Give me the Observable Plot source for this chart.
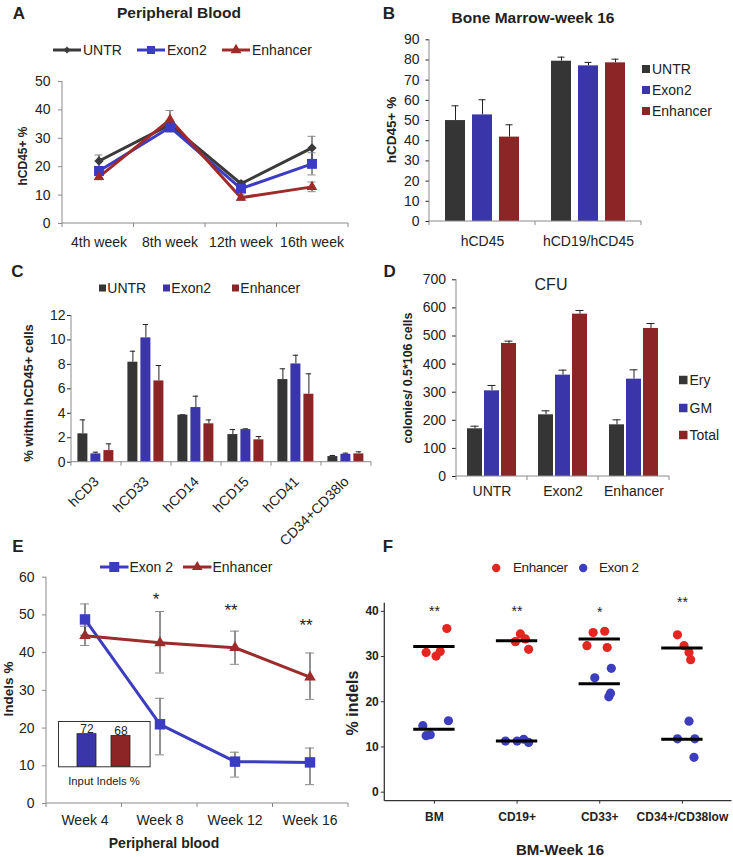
<!DOCTYPE html>
<html>
<head>
<meta charset="utf-8">
<script src="https://cdn.jsdelivr.net/npm/d3@7"></script>
<script src="https://cdn.jsdelivr.net/npm/@observablehq/plot@0.6"></script>
<style>
  html, body { margin: 0; padding: 0; background: #fff; }
  #root { position: relative; width: 733px; height: 857px; overflow: hidden; background: #fff; }
</style>
</head>
<body>
<div id="root"></div>
<script>
// ---------------- DATA ----------------
const series = ["UNTR", "Exon2", "Enhancer"];

// A: Peripheral Blood (hCD45+ %)
const aWeeks = ["4th week", "8th week", "12th week", "16th week"];
const aUNTR = [22.0, 34.8, 14.0, 26.6];
const aUNTRErr = [2.1, 1.5, 1.0, 4.1];
const aExon2 = [18.5, 33.9, 12.3, 21.0];
const aExon2Err = [1.5, 1.7, 1.2, 3.9];
const aEnh = [16.4, 36.6, 9.1, 12.9];
const aEnhErr = [1.0, 3.2, 1.0, 1.7];

// B: Bone Marrow-week 16
const bGroups = ["hCD45", "hCD19/hCD45"];
const bUNTR = [50.0, 79.4], bUNTRErr = [7.3, 2.0];
const bExon2 = [52.8, 77.1], bExon2Err = [7.5, 1.7];
const bEnh = [41.8, 78.6], bEnhErr = [6.1, 1.8];

// C: % within hCD45+ cells
const cCats = ["hCD3", "hCD33", "hCD14", "hCD15", "hCD41", "CD34+CD38lo"];
const cUNTR = [2.32, 8.18, 3.85, 2.26, 6.76, 0.46];
const cUNTRErr = [1.14, 0.90, 0.03, 0.41, 0.88, 0.09];
const cExon2 = [0.68, 10.17, 4.47, 2.67, 8.04, 0.65];
const cExon2Err = [0.14, 1.09, 0.93, 0.06, 0.71, 0.09];
const cEnh = [0.95, 6.65, 3.14, 1.83, 5.56, 0.68];
const cEnhErr = [0.55, 1.26, 0.32, 0.27, 1.67, 0.17];

// D: CFU
const dGroups = ["UNTR", "Exon2", "Enhancer"];
const dTypes = ["Ery", "GM", "Total"];
const dEry = [169.7, 219.5, 183.9], dEryErr = [9.3, 14.2, 17.8];
const dGM = [304.9, 360.7, 346.4], dGMErr = [19.1, 17.8, 33.2];
const dTotal = [473.4, 577.8, 526.8], dTotalErr = [8.3, 13.0, 17.7];

// E: Indels % in peripheral blood
const eWeeks = ["Week 4", "Week 8", "Week 12", "Week 16"];
const eSeries = ["Exon 2", "Enhancer"];
const eExon2 = [48.8, 21.0, 11.1, 10.9];
const eExon2Lo = [44.6, 12.9, 7.0, 5.0];
const eExon2Hi = [52.9, 27.9, 13.6, 14.7];
const eEnh = [44.5, 42.6, 41.3, 33.5];
const eEnhLo = [41.9, 34.6, 36.9, 27.6];
const eEnhHi = [47.0, 50.9, 45.7, 39.9];
const eStars = ["", "*", "**", "**"];
const eStarY = [null, 54.2, 51.2, 47.3];
const insetLabels = ["Exon 2", "Enhancer"];
const insetValues = [72, 68];

// F: BM-Week 16, % indels
const fCats = ["BM", "CD19+", "CD33+", "CD34+/CD38low"];
const fGroups = ["Enhancer", "Exon 2"];
const fEnh = [[30.9, 30.1, 31.1, 36.2], [33.3, 35.0, 33.9, 31.6], [32.4, 35.3, 35.6, 32.0], [34.8, 32.4, 30.9, 29.3]];
const fEnhJitter = [[-0.10, 0.02, 0.07, 0.15], [-0.02, 0.04, 0.10, 0.14], [-0.155, -0.08, 0.06, 0.09], [-0.06, 0.02, 0.08, 0.10]];
const fExon2 = [[14.7, 12.5, 12.7, 15.8], [11.3, 11.3, 11.7, 11.0], [25.3, 27.4, 21.9, 21.1], [15.7, 11.8, 11.8, 7.7]];
const fExon2Jitter = [[-0.14, -0.10, -0.05, 0.17], [-0.14, 0.0, 0.08, 0.14], [-0.06, 0.14, 0.13, 0.11], [0.08, -0.06, 0.15, 0.14]];
const fEnhMean = [32.2, 33.5, 33.9, 31.9];
const fExon2Mean = [13.9, 11.3, 24.0, 11.7];
const fStars = ["**", "**", "*", "**"];
const fStarY = [40.0, 40.0, 39.7, 41.9];

// ---------------- STYLE ----------------
const FONT = '"Liberation Sans", Arial, Helvetica, sans-serif';
const barColors = ["#353535", "#3a35a8", "#8c2525"];
const aLineColors = ["#3a3a3a", "#3b3bc6", "#a02a2a"];
const eLineColors = ["#3c3cc2", "#9c2b2b"];
const fColors = ["#e3261f", "#3d3dbf"];
const AXIS = "#8a8a8a";
const baseStyle = {fontFamily: FONT, fontSize: "14px", color: "#222", background: "transparent", overflow: "visible"};

const root = document.getElementById("root");

function label(text, cx, cy, {size = 14, weight = "normal", rotate = 0, family = FONT, color = "#222"} = {}) {
  const d = document.createElement("div");
  d.textContent = text;
  Object.assign(d.style, {
    position: "absolute", left: cx + "px", top: cy + "px",
    transform: `translate(-50%,-50%) rotate(${rotate}deg)`,
    whiteSpace: "nowrap", fontSize: size + "px", fontWeight: weight,
    fontFamily: family, color, lineHeight: "1"
  });
  root.appendChild(d);
}

function legendItem({kind, x, cy, color, symbol, area, text, w = 28, size = 14, family = FONT, box = 8, gap = 2, r = 4, sw = 3, spacing = 0}) {
  const wrap = document.createElement("div");
  Object.assign(wrap.style, {
    position: "absolute", left: x + "px", top: (cy - 10) + "px", height: "20px",
    display: "flex", alignItems: "center", whiteSpace: "nowrap",
    fontFamily: family, fontSize: size + "px", color: "#222", lineHeight: "20px",
    letterSpacing: spacing + "px"
  });
  const swW = kind === "line" ? w : kind === "box" ? box : 2 * r;
  const svg = d3.create("svg").attr("width", swW).attr("height", 20).style("overflow", "visible").style("display", "block");
  if (kind === "line") {
    svg.append("line").attr("x1", 0).attr("x2", w).attr("y1", 10).attr("y2", 10).attr("stroke", color).attr("stroke-width", sw);
    if (symbol) svg.append("path").attr("d", d3.symbol(symbol, area)()).attr("transform", `translate(${w / 2},10)`).attr("fill", color);
  } else if (kind === "box") {
    svg.append("rect").attr("x", 0).attr("y", 10 - box / 2).attr("width", box).attr("height", box).attr("fill", color);
  } else {
    svg.append("circle").attr("cx", r).attr("cy", 10).attr("r", r).attr("fill", color);
  }
  wrap.append(svg.node());
  const t = document.createElement("span");
  t.textContent = text;
  t.style.marginLeft = gap + "px";
  wrap.append(t);
  root.append(wrap);
}

// axis lines (baseline, left line, boundary ticks) as a render-function mark
function axisFrame({n = 1, tick = 4, color = AXIS, width = 1, yLine = true} = {}) {
  let calls = 0;
  return (index, scales, values, dims) => {
    const first = calls++ === 0;
    const {width: W, height: H, marginLeft: ml, marginRight: mr, marginTop: mt, marginBottom: mb} = dims;
    const x0 = ml, x1 = W - mr, yb = H - mb;
    const g = d3.create("svg:g").attr("stroke", color).attr("stroke-width", width).attr("fill", "none");
    g.append("line").attr("x1", x0).attr("x2", x1).attr("y1", yb).attr("y2", yb);
    if (yLine && first) g.append("line").attr("x1", x0).attr("x2", x0).attr("y1", mt).attr("y2", yb);
    if (tick > 0) {
      for (let i = (first ? 0 : 1); i <= n; i++) {
        const x = x0 + (x1 - x0) * i / n;
        g.append("line").attr("x1", x).attr("x2", x).attr("y1", yb).attr("y2", yb + tick);
      }
    }
    return g.node();
  };
}

function mount(svg, left, top, tickColor) {
  if (tickColor) svg.querySelectorAll('g[aria-label$="tick"]').forEach(g => g.setAttribute("stroke", tickColor));
  Object.assign(svg.style, {position: "absolute", left: left + "px", top: top + "px"});
  root.append(svg);
  return svg;
}

// ---------------- PANEL A ----------------
const aVals = [aUNTR, aExon2, aEnh], aErrs = [aUNTRErr, aExon2Err, aEnhErr];
const aRows = [];
series.forEach((s, si) => aWeeks.forEach((w, wi) => aRows.push({series: s, week: w, v: aVals[si][wi], e: aErrs[si][wi]})));
const aSymbols = ["diamond2", "square", "triangle"];
const aR = [4.2, 5.6, 3.9];

mount(Plot.plot({
  width: 366, height: 190, marginLeft: 62, marginRight: 18, marginTop: 11, marginBottom: 37,
  style: baseStyle,
  x: {type: "band", domain: aWeeks, padding: 0, tickSize: 0, tickPadding: 14, label: null},
  y: {domain: [0, 50], ticks: [0, 10, 20, 30, 40, 50], tickSize: 4, tickPadding: 8, label: null},
  color: {domain: series, range: aLineColors},
  marks: [
    axisFrame({n: aWeeks.length}),
    Plot.ruleX(aRows, {x: "week", y1: d => d.v - d.e, y2: d => d.v + d.e, stroke: "#222"}),
    Plot.tickY(aRows, {x: "week", y: d => d.v + d.e, insetLeft: 31.5, insetRight: 31.5, stroke: "#222"}),
    Plot.tickY(aRows, {x: "week", y: d => d.v - d.e, insetLeft: 31.5, insetRight: 31.5, stroke: "#222"}),
    Plot.line(aRows, {x: "week", y: "v", z: "series", stroke: "series", strokeWidth: 3}),
    ...series.map((s, si) => Plot.dot(aRows.filter(d => d.series === s), {x: "week", y: "v", fill: "series", symbol: aSymbols[si], r: aR[si]}))
  ]
}), 0, 70, AXIS);

label("A", 19, 12.5, {size: 17, weight: "bold"});
label("Peripheral Blood", 179, 12.5, {size: 15.5, weight: "bold"});
label("hCD45+ %", 23, 156, {size: 12, weight: "bold", rotate: -90});
[53, 137, 222].forEach((x, i) => legendItem({kind: "line", x, cy: 50, color: aLineColors[i], symbol: [d3.symbolDiamond2, d3.symbolSquare, d3.symbolTriangle][i], area: [32, 64, 52][i], text: series[i], w: 28}));

// ---------------- PANEL B ----------------
const bVals = [bUNTR, bExon2, bEnh], bErrs = [bUNTRErr, bExon2Err, bEnhErr];
const bRows = [];
bGroups.forEach((g, gi) => series.forEach((s, si) => bRows.push({group: g, series: s, v: bVals[si][gi], e: bErrs[si][gi]})));

mount(Plot.plot({
  width: 367, height: 225, marginLeft: 63, marginRight: 92, marginTop: 9.3, marginBottom: 34,
  style: baseStyle,
  fx: {domain: bGroups, padding: 0, axis: "bottom", tickSize: 0, tickPadding: 15, label: null},
  x: {domain: series, paddingInner: 0.255, paddingOuter: 0.573, axis: null},
  y: {domain: [0, 90], ticks: d3.range(0, 91, 10), tickSize: 3.5, tickPadding: 6.5, label: null},
  color: {domain: series, range: barColors},
  marks: [
    Plot.ruleX(bRows, {fx: "group", x: "series", y1: "v", y2: d => d.v + d.e, stroke: "#222"}),
    Plot.tickY(bRows, {fx: "group", x: "series", y: d => d.v + d.e, insetLeft: 6.5, insetRight: 6.5, stroke: "#222"}),
    Plot.barY(bRows, {fx: "group", x: "series", y: "v", fill: "series"}),
    axisFrame({n: 1})
  ]
}), 366, 30, AXIS);

label("B", 389, 12.5, {size: 17, weight: "bold"});
label("Bone Marrow-week 16", 533, 17.5, {size: 15.5, weight: "bold"});
label("hCD45+ %", 392, 130, {size: 13.5, weight: "bold", rotate: -90});
series.forEach((s, i) => legendItem({kind: "box", x: 642, cy: 69 + 21 * i, color: barColors[i], text: s, box: 8, gap: 2}));

// ---------------- PANEL C ----------------
const cVals = [cUNTR, cExon2, cEnh], cErrs = [cUNTRErr, cExon2Err, cEnhErr];
const cRows = [];
cCats.forEach((c, ci) => series.forEach((s, si) => cRows.push({cat: c, series: s, v: cVals[si][ci], e: cErrs[si][ci]})));

mount(Plot.plot({
  width: 380, height: 250, marginLeft: 69.6, marginRight: 7.7, marginTop: 15, marginBottom: 88.3,
  style: baseStyle,
  fx: {domain: cCats, padding: 0, axis: "bottom", tickRotate: -45, tickSize: 0, tickPadding: 17, label: null},
  x: {domain: series, paddingInner: 0.2, paddingOuter: 0.5, axis: null},
  y: {domain: [0, 12], ticks: [0, 2, 4, 6, 8, 10, 12], tickSize: 4, tickPadding: 2, label: null},
  color: {domain: series, range: barColors},
  marks: [
    Plot.ruleX(cRows, {fx: "cat", x: "series", y1: "v", y2: d => d.v + d.e, stroke: "#222"}),
    Plot.tickY(cRows, {fx: "cat", x: "series", y: d => d.v + d.e, insetLeft: 2.3, insetRight: 2.3, stroke: "#222"}),
    Plot.barY(cRows, {fx: "cat", x: "series", y: "v", fill: "series"}),
    axisFrame({n: 1})
  ]
}), 0, 300, AXIS);

label("C", 17.5, 271, {size: 17, weight: "bold"});
label("% within hCD45+ cells", 28, 393, {size: 13, weight: "bold", rotate: -90});
[99, 163, 232].forEach((x, i) => legendItem({kind: "box", x, cy: 288, color: barColors[i], text: series[i], box: 7, gap: 1.3}));

// ---------------- PANEL D ----------------
const dVals = [dEry, dGM, dTotal], dErrs = [dEryErr, dGMErr, dTotalErr];
const dRows = [];
dGroups.forEach((g, gi) => dTypes.forEach((t, ti) => dRows.push({group: g, type: t, v: dVals[ti][gi], e: dErrs[ti][gi]})));

mount(Plot.plot({
  width: 367, height: 240, marginLeft: 89, marginRight: 63, marginTop: 9.3, marginBottom: 34,
  style: baseStyle,
  fx: {domain: dGroups, padding: 0, axis: "bottom", tickSize: 0, tickPadding: 10, label: null},
  x: {domain: dTypes, paddingInner: 0.14, paddingOuter: 0.62, axis: null},
  y: {domain: [0, 700], ticks: d3.range(0, 701, 100), tickSize: 4, tickPadding: 6.5, label: null},
  color: {domain: dTypes, range: barColors},
  marks: [
    Plot.ruleX(dRows, {fx: "group", x: "type", y1: "v", y2: d => d.v + d.e, stroke: "#222"}),
    Plot.tickY(dRows, {fx: "group", x: "type", y: d => d.v + d.e, insetLeft: 3.5, insetRight: 3.5, stroke: "#222"}),
    Plot.barY(dRows, {fx: "group", x: "type", y: "v", fill: "type"}),
    axisFrame({n: 1})
  ]
}), 366, 270, AXIS);

label("D", 389.7, 271, {size: 17, weight: "bold"});
label("CFU", 551, 285, {size: 16});
label("colonies/ 0.5*106  cells", 407.7, 377.5, {size: 12.4, weight: "bold", rotate: -90});
dTypes.forEach((t, i) => legendItem({kind: "box", x: 679, cy: 380 + 27.5 * i, color: barColors[i], text: t, box: 8.5, gap: 2}));

// ---------------- PANEL E ----------------
const eVals = [eExon2, eEnh], eLos = [eExon2Lo, eEnhLo], eHis = [eExon2Hi, eEnhHi];
const eRows = [];
eSeries.forEach((s, si) => eWeeks.forEach((w, wi) => eRows.push({series: s, week: w, v: eVals[si][wi], lo: eLos[si][wi], hi: eHis[si][wi]})));
const eStarRows = eWeeks.map((w, i) => ({week: w, s: eStars[i], y: eStarY[i]})).filter(d => d.s);
const eSymbols = ["square", "triangle"];
const eR = [5.9, 4.3];

mount(Plot.plot({
  width: 366, height: 297, marginLeft: 46, marginRight: 18, marginTop: 16.7, marginBottom: 54,
  style: baseStyle,
  x: {type: "band", domain: eWeeks, padding: 0, tickSize: 0, tickPadding: 12, label: null},
  y: {domain: [0, 60], ticks: d3.range(0, 61, 10), tickSize: 4, tickPadding: 8, label: null},
  color: {domain: eSeries, range: eLineColors},
  marks: [
    axisFrame({n: eWeeks.length}),
    Plot.ruleX(eRows, {x: "week", y1: "lo", y2: "hi", stroke: "#222"}),
    Plot.tickY(eRows, {x: "week", y: "lo", insetLeft: 33, insetRight: 33, stroke: "#222"}),
    Plot.tickY(eRows, {x: "week", y: "hi", insetLeft: 33, insetRight: 33, stroke: "#222"}),
    Plot.line(eRows, {x: "week", y: "v", z: "series", stroke: "series", strokeWidth: 3}),
    ...eSeries.map((s, si) => Plot.dot(eRows.filter(d => d.series === s), {x: "week", y: "v", fill: "series", symbol: eSymbols[si], r: eR[si]})),
    Plot.text(eStarRows, {x: "week", y: "y", text: "s", fontSize: 17, dx: -4, fill: "#222"})
  ]
}), 0, 560, AXIS);

// inset of E
const insetRows = insetLabels.map((l, i) => ({series: l, v: insetValues[i]}));
mount(Plot.plot({
  width: 91.6, height: 45.3, margin: 0,
  style: {...baseStyle, fontSize: "12px"},
  x: {domain: insetLabels, paddingInner: 0.45, paddingOuter: 0.55, axis: null},
  y: {domain: [0, 100], axis: null},
  color: {domain: insetLabels, range: [barColors[1], barColors[2]]},
  marks: [
    Plot.frame({fill: "white", stroke: "#333"}),
    Plot.barY(insetRows, {x: "series", y: "v", fill: "series", stroke: "#222", strokeWidth: 0.8}),
    Plot.text(insetRows, {x: "series", y: "v", text: d => String(d.v), lineAnchor: "bottom", dy: -1, fill: "#222"})
  ]
}), 57.5, 720.7);

label("E", 18, 546, {size: 17, weight: "bold"});
label("Indels %", 9, 689, {size: 13.5, weight: "bold", rotate: -90});
label("Input Indels %", 104, 782, {size: 11.3});
label("Peripheral blood", 164, 842.5, {size: 14, weight: "bold"});
[100, 183].forEach((x, i) => legendItem({kind: "line", x, cy: 567, color: eLineColors[i], symbol: [d3.symbolSquare, d3.symbolTriangle][i], area: [100, 48][i], text: eSeries[i], w: 28.5, gap: 1}));

// ---------------- PANEL F ----------------
const fRows = [];
fCats.forEach((c, ci) => {
  fEnh[ci].forEach((v, j) => fRows.push({cat: ci, group: "Enhancer", v, jit: fEnhJitter[ci][j]}));
  fExon2[ci].forEach((v, j) => fRows.push({cat: ci, group: "Exon 2", v, jit: fExon2Jitter[ci][j]}));
});
const fMeanRows = fCats.flatMap((c, ci) => [{cat: ci, v: fEnhMean[ci]}, {cat: ci, v: fExon2Mean[ci]}]);
const fStarRows = fCats.map((c, ci) => ({cat: ci, s: fStars[ci], y: fStarY[ci]}));

mount(Plot.plot({
  width: 403, height: 240, marginLeft: 54.3, marginRight: 1.5, marginTop: 12.7, marginBottom: 29.3,
  style: {...baseStyle, fontSize: "12px", fontWeight: "bold", color: "#222"},
  x: {domain: [-0.6, 3.6], ticks: fCats.map((c, i) => i), tickFormat: i => fCats[i], tickSize: 3, tickPadding: 8, label: null},
  y: {domain: [-2, 41.8], ticks: [0, 10, 20, 30, 40], tickSize: 3.5, tickPadding: 2.5, label: null},
  color: {domain: fGroups, range: fColors},
  marks: [
    axisFrame({tick: 0, color: "#333", width: 1.3}),
    Plot.dot(fRows, {x: d => d.cat + d.jit, y: "v", r: 4.6, fill: "group"}),
    Plot.ruleY(fMeanRows, {x1: d => d.cat - 0.25, x2: d => d.cat + 0.25, y: "v", stroke: "#000", strokeWidth: 3}),
    Plot.text(fStarRows, {x: "cat", y: "y", text: "s", fontSize: 14, fontWeight: "normal", fill: "#222"})
  ]
}), 330, 590, "#333");

label("F", 388, 545.7, {size: 17, weight: "bold"});
label("% indels", 352.7, 703, {size: 16, weight: "bold", rotate: -90});
label("BM-Week 16", 560, 848.5, {size: 15, weight: "bold"});
legendItem({kind: "dot", x: 491.8, cy: 568, color: fColors[0], text: fGroups[0], r: 4.2, gap: 12.8, size: 13.5, spacing: -0.4});
legendItem({kind: "dot", x: 578.8, cy: 568, color: fColors[1], text: fGroups[1], r: 4.2, gap: 11.8, size: 13.5, spacing: -0.4});
</script>
</body>
</html>
